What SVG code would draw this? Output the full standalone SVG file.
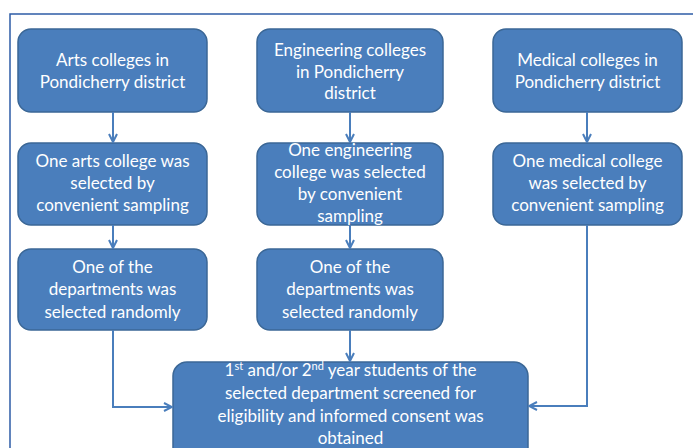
<svg xmlns="http://www.w3.org/2000/svg" width="693" height="448" viewBox="0 0 693 448">
  <style>
    .box { fill: #4a7ebc; stroke: #3b6796; stroke-width: 1.5; }
    .lbl { font-family: Lato, "Open Sans", "Liberation Sans", sans-serif; font-size: 17px; fill: #ffffff; text-anchor: middle; }
    .sup { font-size: 11px; }
    .conn { fill: none; stroke: #4a7ebc; stroke-width: 2; }
    .frame { fill: none; stroke: #2e5ca6; stroke-width: 1.5; }
  </style>
  <defs>
    <marker id="arr" viewBox="0 0 10 10" refX="9" refY="5" markerWidth="10" markerHeight="10" markerUnits="userSpaceOnUse" orient="auto">
      <path d="M1,1 L9,5 L1,9" fill="none" stroke="#4a7ebc" stroke-width="2"/>
    </marker>
  </defs>
  <rect width="693" height="448" fill="#ffffff"/>
  <path class="frame" d="M10,448 L10,14 L693,14"/>

  <g id="arts1">
    <rect class="box" x="18" y="29" width="189" height="83" rx="13"/>
    <text class="lbl"><tspan x="112.5" y="66">Arts colleges in</tspan><tspan x="112.5" y="88">Pondicherry district</tspan></text>
  </g>
  <g id="eng1">
    <rect class="box" x="257" y="29" width="186" height="83" rx="13"/>
    <text class="lbl"><tspan x="350" y="56">Engineering colleges</tspan><tspan x="350" y="78">in Pondicherry</tspan><tspan x="350" y="99">district</tspan></text>
  </g>
  <g id="med1">
    <rect class="box" x="493" y="29" width="189" height="83" rx="13"/>
    <text class="lbl"><tspan x="587.5" y="66">Medical colleges in</tspan><tspan x="587.5" y="88">Pondicherry district</tspan></text>
  </g>

  <g id="arts2">
    <rect class="box" x="18" y="143" width="189" height="82" rx="13"/>
    <text class="lbl"><tspan x="112.5" y="167">One arts college was</tspan><tspan x="112.5" y="189">selected by</tspan><tspan x="112.5" y="211">convenient sampling</tspan></text>
  </g>
  <g id="eng2">
    <rect class="box" x="257" y="143" width="186" height="82" rx="13"/>
    <text class="lbl"><tspan x="350" y="156">One engineering</tspan><tspan x="350" y="178">college was selected</tspan><tspan x="350" y="200">by convenient</tspan><tspan x="350" y="222">sampling</tspan></text>
  </g>
  <g id="med2">
    <rect class="box" x="493" y="143" width="189" height="82" rx="13"/>
    <text class="lbl"><tspan x="587.5" y="167">One medical college</tspan><tspan x="587.5" y="189">was selected by</tspan><tspan x="587.5" y="211">convenient sampling</tspan></text>
  </g>

  <g id="arts3">
    <rect class="box" x="18" y="249" width="189" height="81" rx="13"/>
    <text class="lbl"><tspan x="112.5" y="273">One of the</tspan><tspan x="112.5" y="295">departments was</tspan><tspan x="112.5" y="318">selected randomly</tspan></text>
  </g>
  <g id="eng3">
    <rect class="box" x="257" y="249" width="186" height="81" rx="13"/>
    <text class="lbl"><tspan x="350" y="273">One of the</tspan><tspan x="350" y="295">departments was</tspan><tspan x="350" y="318">selected randomly</tspan></text>
  </g>

  <g id="final">
    <rect class="box" x="173" y="362" width="355" height="110" rx="14"/>
    <text class="lbl" x="350.5" y="376">1<tspan class="sup" dy="-6">st</tspan><tspan dy="6"> and/or 2</tspan><tspan class="sup" dy="-6">nd</tspan><tspan dy="6"> year students of the</tspan></text>
    <text class="lbl"><tspan x="350.5" y="399">selected department screened for</tspan><tspan x="350.5" y="422">eligibility and informed consent was</tspan><tspan x="350.5" y="444">obtained</tspan></text>
  </g>

  <g id="connectors">
    <path class="conn" marker-end="url(#arr)" d="M113,112 L113,142"/>
    <path class="conn" marker-end="url(#arr)" d="M113,225 L113,248"/>
    <path class="conn" marker-end="url(#arr)" d="M350,112 L350,142"/>
    <path class="conn" marker-end="url(#arr)" d="M350,225 L350,248"/>
    <path class="conn" marker-end="url(#arr)" d="M587,112 L587,142"/>
    <path class="conn" marker-end="url(#arr)" d="M113,330 L113,407 L172,407"/>
    <path class="conn" marker-end="url(#arr)" d="M350,330 L350,361"/>
    <path class="conn" marker-end="url(#arr)" d="M587,225 L587,406 L529,406"/>
  </g>
</svg>
